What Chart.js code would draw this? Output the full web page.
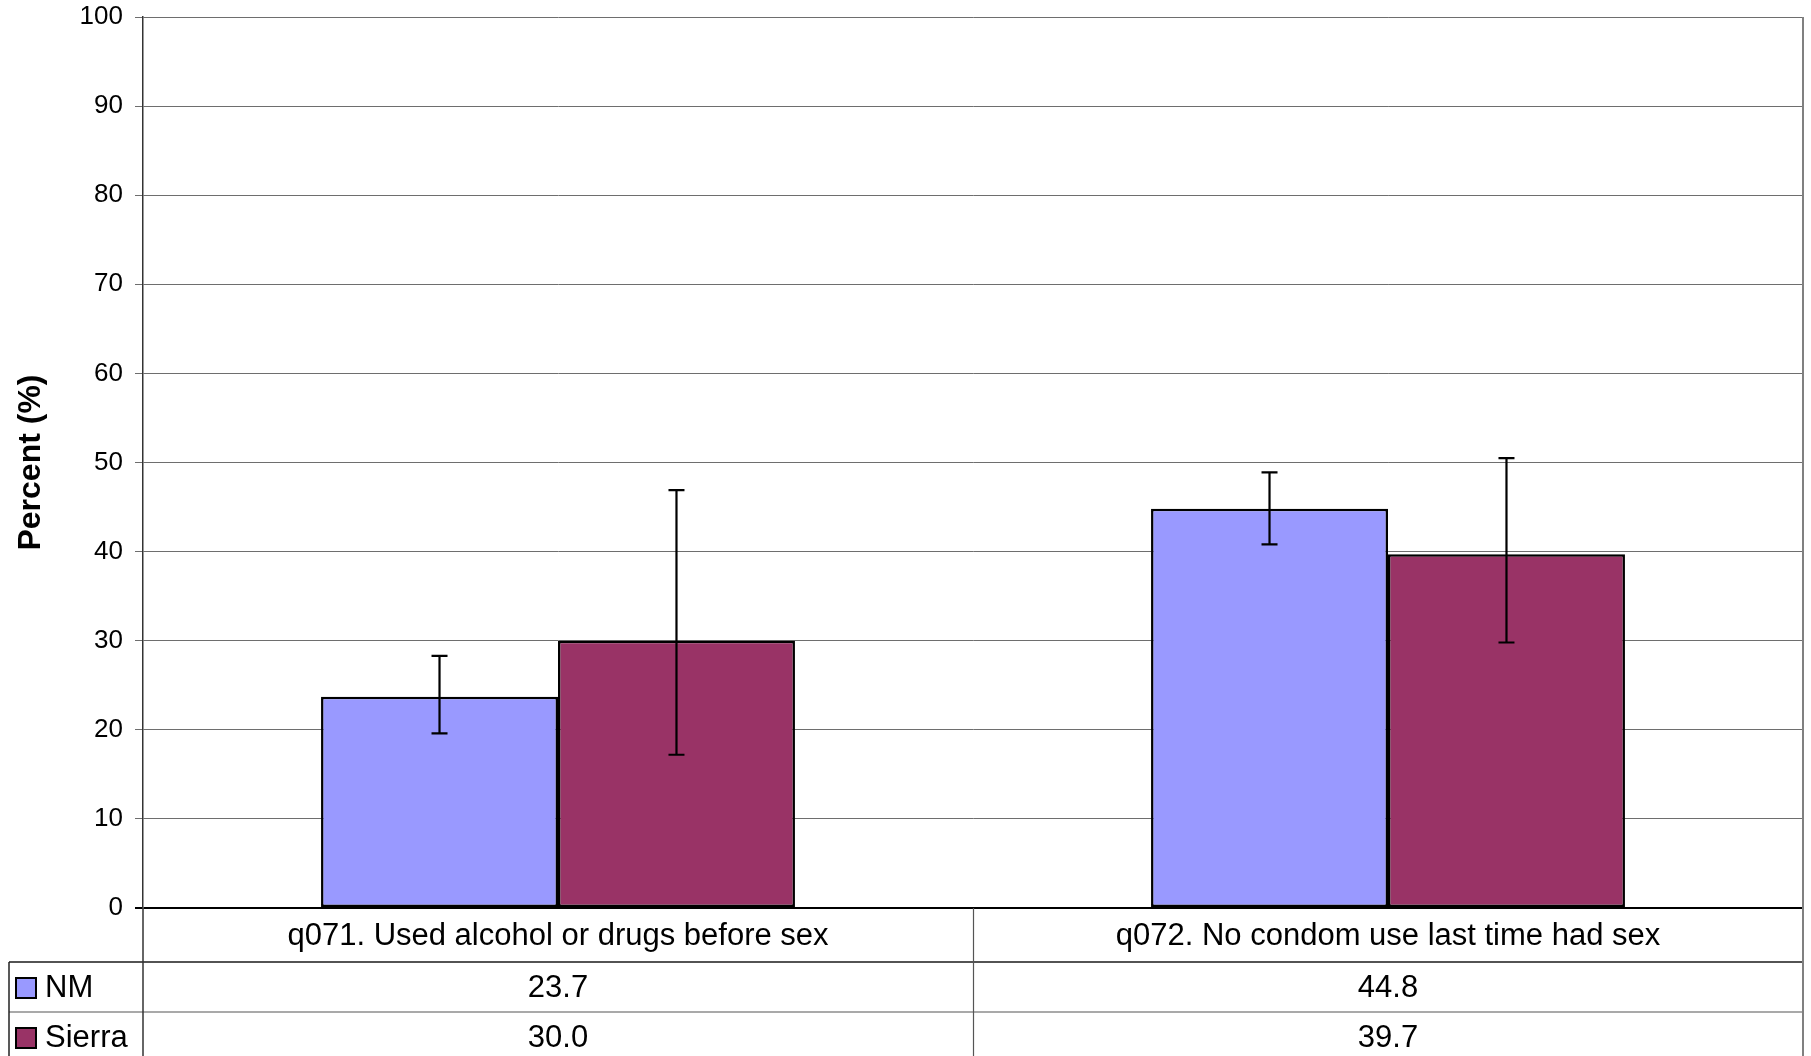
<!DOCTYPE html>
<html>
<head>
<meta charset="utf-8">
<script src="https://cdn.jsdelivr.net/npm/chart.js@4/dist/chart.umd.min.js"></script>
<style>
  html, body { margin: 0; padding: 0; background: #ffffff; }
  #wrap { width: 1811px; height: 1056px; position: relative; }
</style>
</head>
<body>
<div id="wrap"><canvas id="c" width="1811" height="1056"></canvas></div>
<script>
// ---- data ----
const categories = ['q071. Used alcohol or drugs before sex', 'q072. No condom use last time had sex'];
const seriesNames = ['NM', 'Sierra'];
const nmValues = [23.7, 44.8];
const sierraValues = [30.0, 39.7];
const nmLow = [19.6, 40.8];
const nmHigh = [28.3, 48.9];
const sierraLow = [17.2, 29.8];
const sierraHigh = [46.9, 50.5];
const nmTableLabels = ['23.7', '44.8'];
const sierraTableLabels = ['30.0', '39.7'];
const yTickValues = [0, 10, 20, 30, 40, 50, 60, 70, 80, 90, 100];
const yTitle = 'Percent (%)';

const FONT = '"Liberation Sans", Arial, "DejaVu Sans", sans-serif';
const COLORS = ['#9999FF', '#993366'];

const errorBarPlugin = {
  id: 'errorBars',
  afterDatasetsDraw(chart) {
    const ctx = chart.ctx;
    const y = chart.scales.y;
    ctx.save();
    ctx.strokeStyle = '#000000';
    ctx.lineWidth = 2.2;
    chart.data.datasets.forEach((ds, i) => {
      const meta = chart.getDatasetMeta(i);
      meta.data.forEach((el, j) => {
        const x = el.x;
        const yl = y.getPixelForValue(ds.errLow[j]);
        const yh = y.getPixelForValue(ds.errHigh[j]);
        ctx.beginPath();
        ctx.moveTo(x, yl); ctx.lineTo(x, yh);
        ctx.moveTo(x - 8, yl); ctx.lineTo(x + 8, yl);
        ctx.moveTo(x - 8, yh); ctx.lineTo(x + 8, yh);
        ctx.stroke();
      });
    });
    ctx.restore();
  }
};

const tablePlugin = {
  id: 'dataTable',
  afterDraw(chart) {
    const ctx = chart.ctx;
    const xs = chart.scales.x;
    const area = chart.chartArea;
    const H = chart.height;
    const left = area.left, right = area.right, bottom = area.bottom;
    const n = categories.length;
    const bounds = [left];
    for (let i = 0; i < n - 1; i++) {
      bounds.push((xs.getPixelForValue(i) + xs.getPixelForValue(i + 1)) / 2);
    }
    bounds.push(right);
    const rowCat = [bottom, 962];
    const rowNM = [962, 1012];
    const rowSi = [1012, 1062];
    const tableLeft = 9;

    ctx.save();
    // horizontal lines
    ctx.strokeStyle = '#1a1a1a';
    ctx.lineWidth = 1.5;
    ctx.beginPath(); ctx.moveTo(tableLeft, 962); ctx.lineTo(right, 962); ctx.stroke();
    ctx.strokeStyle = '#555555';
    ctx.lineWidth = 1.2;
    ctx.beginPath(); ctx.moveTo(tableLeft, 1012); ctx.lineTo(right, 1012); ctx.stroke();
    // vertical lines
    ctx.strokeStyle = '#222222';
    ctx.lineWidth = 1.5;
    ctx.beginPath(); ctx.moveTo(tableLeft, 962); ctx.lineTo(tableLeft, H); ctx.stroke();
    ctx.strokeStyle = '#333333';
    ctx.beginPath(); ctx.moveTo(left, bottom); ctx.lineTo(left, H); ctx.stroke();
    ctx.strokeStyle = '#555555';
    ctx.lineWidth = 1.2;
    for (let i = 1; i < bounds.length - 1; i++) {
      ctx.beginPath(); ctx.moveTo(Math.round(bounds[i]) + 0.5, bottom); ctx.lineTo(Math.round(bounds[i]) + 0.5, H); ctx.stroke();
    }
    // right border of plot + table
    ctx.strokeStyle = '#808080';
    ctx.lineWidth = 2;
    ctx.beginPath(); ctx.moveTo(right, area.top); ctx.lineTo(right, H); ctx.stroke();

    // texts
    ctx.fillStyle = '#000000';
    ctx.font = '31px ' + FONT;
    ctx.textAlign = 'center';
    ctx.textBaseline = 'middle';
    for (let i = 0; i < n; i++) {
      const cx = (bounds[i] + bounds[i + 1]) / 2;
      ctx.fillText(categories[i], cx, (rowCat[0] + rowCat[1]) / 2 + 1);
      ctx.fillText(nmTableLabels[i], cx, (rowNM[0] + rowNM[1]) / 2 + 1);
      ctx.fillText(sierraTableLabels[i], cx, (rowSi[0] + rowSi[1]) / 2 + 1);
    }
    // legend keys
    const rows = [rowNM, rowSi];
    ctx.textAlign = 'left';
    seriesNames.forEach((name, k) => {
      const cy = (rows[k][0] + rows[k][1]) / 2;
      ctx.fillStyle = COLORS[k];
      ctx.fillRect(16, cy - 9, 20, 20);
      ctx.strokeStyle = '#000000';
      ctx.lineWidth = 2;
      ctx.strokeRect(16, cy - 9, 20, 20);
      ctx.fillStyle = '#000000';
      ctx.fillText(name, 45, cy + 1);
    });

    // y axis title
    ctx.save();
    ctx.translate(31, (area.top + area.bottom) / 2);
    ctx.rotate(-Math.PI / 2);
    ctx.textAlign = 'center';
    ctx.textBaseline = 'middle';
    ctx.font = 'bold 32px ' + FONT;
    ctx.fillText(yTitle, 0, 0);
    ctx.restore();
    ctx.restore();
  }
};

new Chart(document.getElementById('c'), {
  type: 'bar',
  data: {
    labels: categories,
    datasets: [
      { label: seriesNames[0], data: nmValues, errLow: nmLow, errHigh: nmHigh,
        backgroundColor: COLORS[0], borderColor: '#000000', borderWidth: 2.5, borderSkipped: false,
        categoryPercentage: 0.571, barPercentage: 1.0 },
      { label: seriesNames[1], data: sierraValues, errLow: sierraLow, errHigh: sierraHigh,
        backgroundColor: COLORS[1], borderColor: '#000000', borderWidth: 2.5, borderSkipped: false,
        categoryPercentage: 0.571, barPercentage: 1.0 }
    ]
  },
  options: {
    responsive: false,
    animation: false,
    devicePixelRatio: 1,
    layout: { padding: { top: 17, right: 8, bottom: 148, left: 0 } },
    plugins: {
      legend: { display: false },
      title: { display: false },
      tooltip: { enabled: false }
    },
    scales: {
      x: {
        display: false
      },
      y: {
        min: 0, max: 100,
        afterFit(scale) { scale.width = 143; scale.paddingTop = 0; scale.paddingBottom = 0; },
        afterBuildTicks(scale) { scale.ticks = yTickValues.map(v => ({ value: v })); },
        ticks: {
          color: '#000000',
          font: { family: FONT, size: 26 },
          padding: 12
        },
        grid: {
          color: (c) => (c.tick && c.tick.value === 0) ? '#000000' : '#6e6e6e',
          lineWidth: (c) => (c.tick && c.tick.value === 0) ? 2 : 1,
          tickLength: 8,
          drawTicks: true
        },
        border: { display: true, color: '#333333', width: 1.5 }
      }
    }
  },
  plugins: [errorBarPlugin, tablePlugin]
});
</script>
</body>
</html>
